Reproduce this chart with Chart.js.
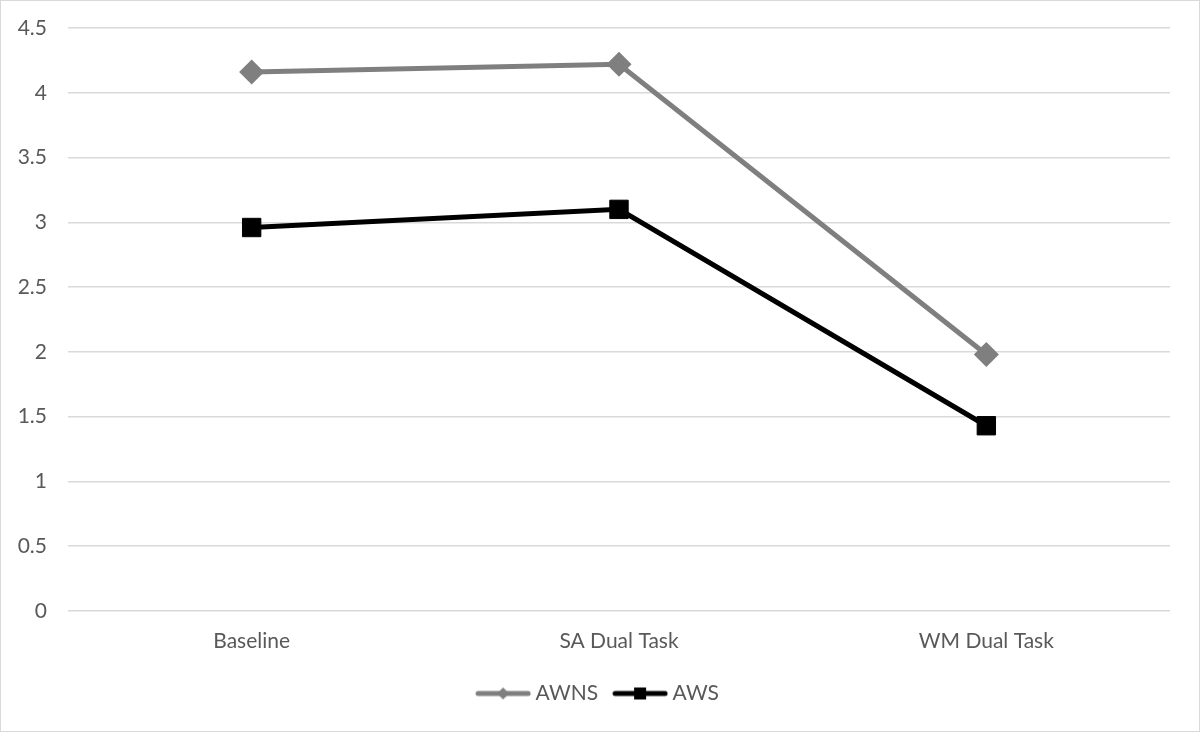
<!DOCTYPE html>
<html lang="en">
  <head>
    <meta charset="UTF-8" />
    <title>AWNS vs AWS</title>
    <style type="text/css">
      body {
        margin: 0;
        background-color: #ffffff;
      }

      .frame {
        width: 1198px;
        height: 730px;
        border: 1px solid #d9d9d9;
      }
    </style>
  </head>
  <body>
    <div class="frame">
      <canvas id="line-chart" width="1198" height="730"></canvas>
    </div>

    <script src="https://cdn.jsdelivr.net/npm/chart.js@4.4.1/dist/chart.umd.min.js"></script>

    <script type="text/javascript">
      const categories = ["Baseline", "SA Dual Task", "WM Dual Task"];
      const awnsValues = [4.16, 4.22, 1.98];
      const awsValues = [2.96, 3.1, 1.43];
      const yTicks = [0, 0.5, 1, 1.5, 2, 2.5, 3, 3.5, 4, 4.5];

      const grey = "#7f7f7f";
      const black = "#000000";
      const textColor = "#595959";
      const font = { family: "Lato, 'Open Sans', sans-serif", size: 21 };

      // legend swatch: a short line with the marker in the middle
      const makeSwatch = (color, shape) => {
        const c = document.createElement("canvas");
        c.width = 56;
        c.height = 16;
        const ctx = c.getContext("2d");
        ctx.strokeStyle = color;
        ctx.lineWidth = 5;
        ctx.lineCap = "round";
        ctx.beginPath();
        ctx.moveTo(3, 8);
        ctx.lineTo(53, 8);
        ctx.stroke();
        ctx.fillStyle = color;
        ctx.beginPath();
        if (shape === "diamond") {
          ctx.moveTo(28, 2);
          ctx.lineTo(34, 8);
          ctx.lineTo(28, 14);
          ctx.lineTo(22, 8);
        } else {
          ctx.rect(22, 2, 12, 12);
        }
        ctx.fill();
        return c;
      };

      const swatches = [makeSwatch(grey, "diamond"), makeSwatch(black, "square")];

      const chart = new Chart("line-chart", {
        type: "line",
        data: {
          labels: categories,
          datasets: [
            {
              label: "AWNS",
              data: awnsValues,
              borderColor: grey,
              backgroundColor: grey,
              borderWidth: 5,
              pointStyle: "rectRot",
              pointRadius: 9,
              pointHoverRadius: 9,
              fill: false,
            },
            {
              label: "AWS",
              data: awsValues,
              borderColor: black,
              backgroundColor: black,
              borderWidth: 5,
              pointStyle: "rect",
              pointRadius: 13,
              pointHoverRadius: 13,
              pointBorderWidth: 1,
              fill: false,
            },
          ],
        },
        options: {
          responsive: false,
          animation: false,
          layout: {
            padding: { top: 27, right: 0, bottom: 17, left: 0 },
          },
          plugins: {
            tooltip: { enabled: false },
            legend: {
              position: "bottom",
              labels: {
                color: textColor,
                font: font,
                usePointStyle: true,
                pointStyleWidth: 44,
                padding: 20,
                generateLabels: (c) =>
                  c.data.datasets.map((ds, i) => ({
                    text: ds.label,
                    pointStyle: swatches[i],
                    fontColor: textColor,
                    datasetIndex: i,
                    hidden: false,
                  })),
              },
            },
          },
          scales: {
            x: {
              offset: true,
              grid: { display: false },
              border: { display: false },
              ticks: { color: textColor, font: font, padding: 10 },
              afterFit: (scale) => {
                scale.height = 52;
              },
            },
            y: {
              min: 0,
              max: 4.5,
              afterBuildTicks: (scale) => {
                scale.ticks = yTicks.map((v) => ({ value: v }));
              },
              grid: { color: "#d9d9d9", lineWidth: 1.5, drawTicks: false },
              border: { display: false },
              ticks: {
                color: textColor,
                font: font,
                padding: 21,
                callback: (v) => String(v),
              },
              afterFit: (scale) => {
                scale.width = 67;
                scale.paddingTop = 0;
                scale.paddingBottom = 0;
              },
            },
            // empty right axis, only keeps a margin right of the plot
            yRight: {
              position: "right",
              min: 0,
              max: 4.5,
              grid: { display: false },
              border: { display: false },
              ticks: { display: false },
              afterFit: (scale) => {
                scale.width = 29;
                scale.paddingTop = 0;
                scale.paddingBottom = 0;
              },
            },
          },
        },
      });
    </script>
  </body>
</html>
